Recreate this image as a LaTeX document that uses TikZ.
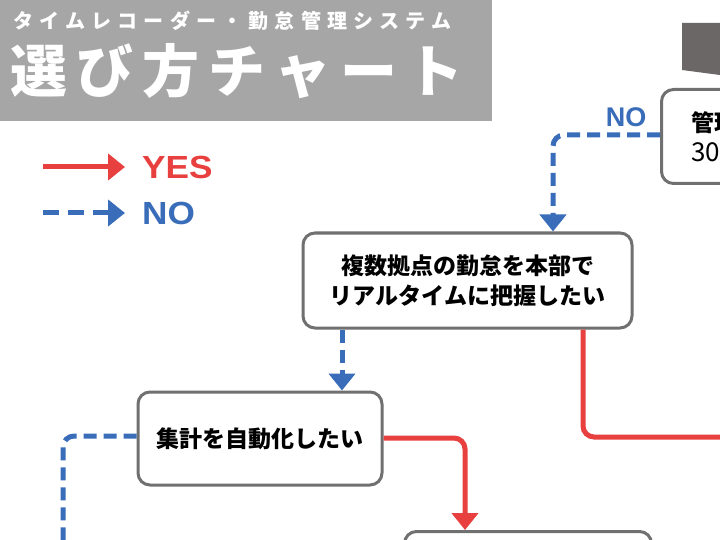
\documentclass[tikz,border=0pt]{standalone}
\usepackage{fontspec}
\setmainfont{Liberation Sans}
\newfontfamily\jp{Noto Sans CJK JP}
\usetikzlibrary{arrows.meta}
\definecolor{yesred}{HTML}{E8403F}
\definecolor{noblue}{HTML}{3A6DB9}
\definecolor{boxgray}{HTML}{707070}
\definecolor{banner}{HTML}{A6A6A6}
\definecolor{darkshape}{HTML}{6B6767}
\tikzset{
  qbox/.style={draw=boxgray, line width=3pt, rounded corners=12pt, fill=white,
    inner sep=0pt, align=center, font=\jp\bfseries\fontsize{23}{30}\selectfont},
  yesline/.style={draw=yesred, line width=5pt, rounded corners=11pt,
    -{Triangle[width=26pt,length=17pt]}},
  noline/.style={draw=noblue, line width=5pt, rounded corners=11pt,
    dash pattern=on 13pt off 7pt, -{Triangle[width=26pt,length=17pt]}},
  noplain/.style={draw=noblue, line width=5pt, rounded corners=11pt,
    dash pattern=on 13pt off 7pt},
  yesplain/.style={draw=yesred, line width=5pt, rounded corners=11pt},
  legtext/.style={font=\bfseries\fontsize{32}{32}\selectfont, anchor=west, inner sep=0pt, xscale=1.1},
}
\begin{document}
\begin{tikzpicture}[x=1pt,y=-1pt]
\useasboundingbox (0,0) rectangle (720,540);
\clip (0,0) rectangle (720,540);
\fill[white] (0,0) rectangle (720,540);
% title banner
\fill[banner] (0,0) rectangle (492,121);
\node[anchor=west, inner sep=0pt, text=white, font=\jp\bfseries\fontsize{20}{20}\selectfont\addfontfeature{LetterSpace=31}] (t1) at (13,21) {タイムレコーダー・勤怠管理システム};
\node[anchor=west, inner sep=0pt, text=white, font=\jp\bfseries\fontsize{57}{57}\selectfont\addfontfeature{LetterSpace=16}] (t2) at (10,71) {選び方チャート};
% legend
\coordinate (lr1) at (43,167); \coordinate (lr2) at (125,167);
\coordinate (lb1) at (43,213); \coordinate (lb2) at (125,213);
\draw[yesline] (lr1) -- (lr2);
\draw[noline, dash pattern=on 16pt off 9pt] (lb1) -- (lb2);
\node[legtext, text=yesred] (yes) at (142,167) {YES};
\node[legtext, text=noblue] (no) at (142,213) {NO};
% top-right dark shape
\fill[darkshape] (682,23) -- (720,23) -- (720,75) -- (682,70) -- cycle;
% boxes
\node[qbox, anchor=north west, minimum width=170pt, minimum height=94pt, align=left,
  inner xsep=30pt, text width=110pt] (b1) at (660,88) {管理\\{\mdseries\fontsize{26}{30}\selectfont 30}};
\node[qbox, minimum width=329pt, minimum height=95pt] (b2) at (467.5,280.5)
  {複数拠点の勤怠を本部で\\リアルタイムに把握したい};
\node[qbox, minimum width=244pt, minimum height=93pt] (b3) at (260,438.5)
  {集計を自動化したい};
\node[qbox, anchor=north west, minimum width=247pt, minimum height=95pt] (b4) at (403,530) {};
% connectors
\draw[noline] (b1.west |- 0,135) -- (553,135) -- (b2.north -| 553,0);
\node[inner sep=0pt, text=noblue, font=\bfseries\fontsize{27}{27}\selectfont] (nolab) at (626,117) {NO};
\draw[noline] (b2.south -| 342,0) -- (b3.north -| 342,0);
\coordinate (offr) at (730,437);
\draw[yesplain] (b2.south -| 583,0) -- (583,437) -- (offr);
\draw[yesline] (b3.east |- 0,438) -- (465,438) -- (b4.north -| 465,0);
\coordinate (offb) at (63,560);
\draw[noplain] (b3.west |- 0,436) -- (63,436) -- (offb);
\end{tikzpicture}
\end{document}
